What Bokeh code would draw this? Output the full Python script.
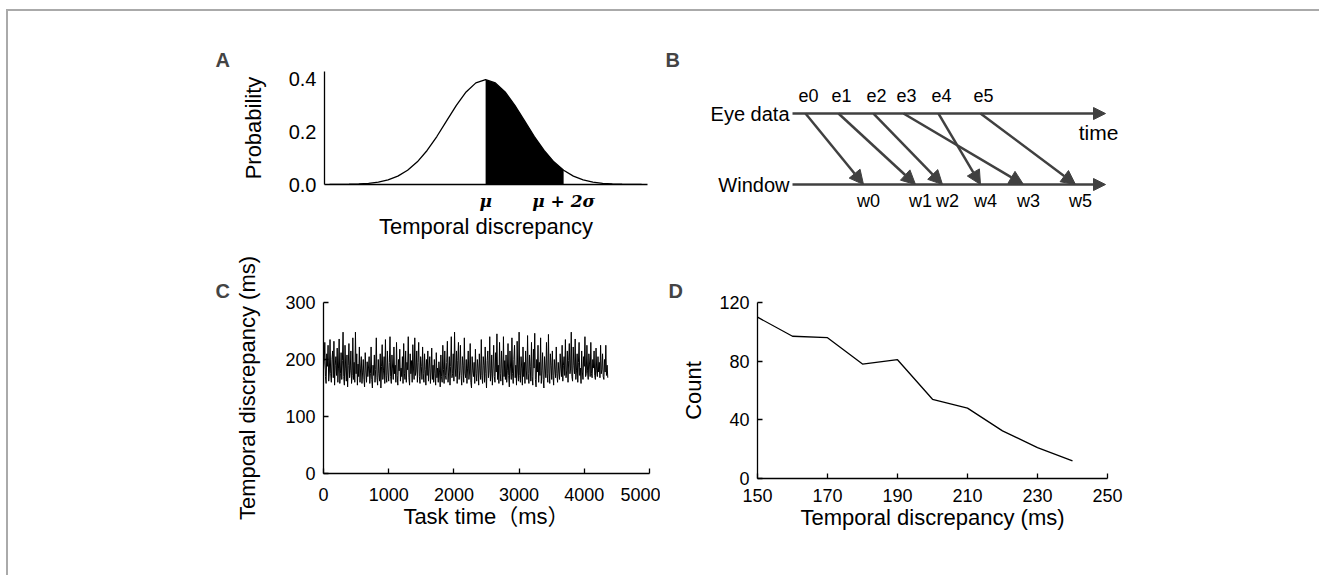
from bokeh.plotting import figure
from bokeh.models import (Range1d, FixedTicker, PrintfTickFormatter, Arrow, NormalHead,
                          ColumnDataSource, Spacer, Div)
from bokeh.layouts import row, column
from bokeh.embed import file_html
from bokeh.resources import INLINE
from bokeh.core.properties import value

FONT = "Liberation Sans"
MATH_FONT = "DejaVu Serif"
INK = "#000000"
ARROW_INK = "#404040"

# ---------------- Panel A : normal density (tabulated) ----------------
pdf_x = [-4.0, -3.75, -3.5, -3.25, -3.0, -2.75, -2.5, -2.25, -2.0, -1.75, -1.5, -1.25,
         -1.0, -0.75, -0.5, -0.25, 0.0, 0.25, 0.5, 0.75, 1.0, 1.25, 1.5, 1.75, 2.0,
         2.25, 2.5, 2.75, 3.0, 3.25, 3.5, 3.75, 4.0]
pdf_y = [0.0001, 0.0004, 0.0009, 0.0020, 0.0044, 0.0091, 0.0175, 0.0317, 0.0540, 0.0863,
         0.1295, 0.1826, 0.2420, 0.3011, 0.3521, 0.3867, 0.3989, 0.3867, 0.3521, 0.3011,
         0.2420, 0.1826, 0.1295, 0.0863, 0.0540, 0.0317, 0.0175, 0.0091, 0.0044, 0.0020,
         0.0009, 0.0004, 0.0001]
shade_lo, shade_hi = 0.0, 2.0
a_xticks = [0, 2]
a_xtick_labels = {0: "μ", 2: "μ + 2σ"}
a_yticks = [0.0, 0.2, 0.4]

# ---------------- Panel B : eye data -> window ----------------
event_labels = ["e0", "e1", "e2", "e3", "e4", "e5"]
event_t = [13, 46, 81, 111, 146, 188]
window_labels = ["w0", "w1", "w2", "w3", "w4", "w5"]
window_t = [71, 123, 150, 231, 188, 283]
time_axis_end = 313

# ---------------- Panel C : temporal discrepancy over task time ----------------
disc_values = [
    182, 196, 230, 170, 158, 210, 188, 225, 162, 178,
    235, 175, 160, 200, 215, 168, 232, 155, 190, 205,
    172, 220, 160, 185, 236, 158, 175, 212, 165, 198,
    248, 170, 155, 225, 185, 162, 208, 152, 190, 228,
    168, 180, 215, 158, 172, 238, 165, 195, 160, 248,
    175, 210, 155, 192, 170, 222, 160, 185, 205, 158,
    178, 200, 165, 152, 212, 180, 160, 196, 170, 185,
    205, 158, 175, 222, 165, 150, 190, 172, 208, 160,
    182, 238, 168, 155, 200, 175, 162, 210, 150, 188,
    226, 165, 180, 205, 158, 235, 172, 160, 215, 178,
    162, 195, 240, 170, 158, 208, 185, 165, 222, 175,
    190, 160, 230, 172, 155, 200, 180, 218, 162, 185,
    170, 205, 158, 228, 176, 165, 215, 160, 195, 182,
    240, 168, 155, 210, 175, 198, 160, 226, 185, 165,
    238, 172, 180, 215, 160, 195, 230, 170, 158, 205,
    188, 165, 222, 175, 160, 210, 182, 155, 200, 172,
    215, 162, 185, 205, 158, 178, 220, 165, 190, 160,
    200, 175, 155, 212, 168, 185, 160, 196, 178, 152,
    208, 170, 160, 225, 182, 158, 215, 172, 165, 195,
    232, 160, 178, 205, 155, 188, 240, 168, 175, 210,
    162, 248, 185, 170, 215, 158, 198, 230, 165, 180,
    225, 172, 155, 205, 190, 160, 238, 176, 168, 200,
    158, 185, 215, 165, 178, 228, 160, 150, 205, 180,
    170, 195, 158, 218, 175, 162, 200, 185, 155, 210,
    180, 165, 235, 172, 158, 205, 190, 160, 222, 175,
    150, 198, 215, 168, 180, 240, 162, 175, 208, 155,
    185, 225, 170, 160, 212, 178, 245, 165, 190, 158,
    230, 175, 162, 215, 185, 155, 240, 170, 198, 165,
    208, 160, 180, 228, 172, 152, 215, 185, 165, 238,
    175, 158, 200, 225, 168, 190, 155, 232, 178, 162,
    248, 172, 160, 205, 185, 155, 222, 170, 195, 158,
    215, 180, 165, 242, 175, 158, 208, 188, 162, 230,
    170, 155, 218, 185, 246, 165, 152, 200, 178, 225,
    160, 195, 172, 238, 158, 180, 212, 165, 150, 205,
    185, 168, 230, 175, 160, 244, 178, 158, 210, 190,
    165, 215, 172, 155, 200, 182, 168, 222, 175, 160,
    195, 178, 165, 210, 185, 170, 225, 162, 190, 205,
    172, 235, 168, 180, 215, 160, 198, 228, 175, 185,
    248, 170, 162, 222, 190, 175, 236, 165, 180, 210,
    160, 195, 230, 172, 185, 158, 215, 178, 165, 205,
    188, 240, 170, 175, 225, 180, 165, 210, 192, 170,
    230, 175, 168, 200, 185, 215, 172, 165, 220, 180,
    170, 205, 178, 195, 168, 225, 175, 182, 210, 170,
    165, 200, 178, 225, 172, 190, 168,
]
sample_step_ms = 10
task_time = [i * sample_step_ms for i in range(len(disc_values))]
c_xticks = [0, 1000, 2000, 3000, 4000, 5000]
c_yticks = [0, 100, 200, 300]

# ---------------- Panel D : histogram counts ----------------
bin_ms = [150, 160, 170, 180, 190, 200, 210, 220, 230, 240]
counts = [110, 97, 96, 78, 81, 54, 48, 32.5, 21, 12]
d_xticks = [150, 170, 190, 210, 230, 250]
d_yticks = [0, 40, 80, 120]


def style_axes(p, tick_size="18px", label_size="22px", tick_in=5):
    for ax in p.axis:
        ax.axis_line_color = INK
        ax.axis_line_width = 1.3
        ax.major_tick_line_color = INK
        ax.major_tick_line_width = 1.3
        ax.major_tick_in = tick_in
        ax.major_tick_out = 0
        ax.minor_tick_line_color = None
        ax.major_label_text_font = FONT
        ax.major_label_text_font_size = tick_size
        ax.major_label_text_color = INK
        ax.axis_label_text_font = FONT
        ax.axis_label_text_font_size = label_size
        ax.axis_label_text_font_style = "normal"
        ax.axis_label_text_color = INK
    p.grid.visible = False
    p.outline_line_color = None
    p.background_fill_color = "white"
    p.border_fill_color = "white"


def style_title(p, offset):
    p.title.text_font = FONT
    p.title.text_font_size = "20px"
    p.title.text_font_style = "bold"
    p.title.align = "left"
    p.title.offset = offset
    p.title.standoff = 2


# ---- A
pA = figure(title="A", frame_width=323, frame_height=113,
            min_border_left=124, min_border_right=13, min_border_top=31, min_border_bottom=61,
            x_range=Range1d(-4.13, 4.15), y_range=Range1d(0, 0.43),
            output_backend="svg", toolbar_location=None)
sx = [x for x in pdf_x if shade_lo <= x <= shade_hi]
sy = [y for x, y in zip(pdf_x, pdf_y) if shade_lo <= x <= shade_hi]
pA.varea(x=sx, y1=[0] * len(sx), y2=sy, fill_color=INK)
pA.line(pdf_x, pdf_y, line_color=INK, line_width=1.3)
style_axes(pA, tick_size="20px", tick_in=0)
pA.xaxis.ticker = FixedTicker(ticks=a_xticks)
pA.xaxis.major_label_overrides = a_xtick_labels
pA.xaxis.major_label_text_font = MATH_FONT
pA.xaxis.major_label_text_font_style = "bold italic"
pA.xaxis.major_label_text_font_size = "17px"
pA.xaxis.axis_label = "Temporal discrepancy"
pA.xaxis.major_label_standoff = 6
pA.xaxis.axis_label_standoff = 0
pA.yaxis.ticker = FixedTicker(ticks=a_yticks)
pA.yaxis.formatter = PrintfTickFormatter(format="%.1f")
pA.yaxis.axis_label = "Probability"
pA.yaxis.major_label_standoff = 8
pA.yaxis.axis_label_standoff = 20
style_title(pA, -109)

# ---- B
pB = figure(title="B", frame_width=470, frame_height=174,
            min_border_left=0, min_border_right=0, min_border_top=31, min_border_bottom=0,
            x_range=Range1d(-132, 338), y_range=Range1d(-0.859, 1.592),
            output_backend="svg", toolbar_location=None)
pB.axis.visible = False
pB.grid.visible = False
pB.outline_line_color = None
style_title(pB, 5)
pB.add_layout(Arrow(end=NormalHead(size=12, fill_color=ARROW_INK, line_color=ARROW_INK),
                    x_start=0, y_start=1, x_end=time_axis_end, y_end=1,
                    line_color=ARROW_INK, line_width=2.5))
pB.add_layout(Arrow(end=NormalHead(size=12, fill_color=ARROW_INK, line_color=ARROW_INK),
                    x_start=0, y_start=0, x_end=time_axis_end, y_end=0,
                    line_color=ARROW_INK, line_width=2.5))
arr_src = ColumnDataSource(dict(x0=event_t, y0=[1] * len(event_t),
                                x1=window_t, y1=[0] * len(window_t)))
pB.add_layout(Arrow(end=NormalHead(size=14, fill_color=ARROW_INK, line_color=ARROW_INK),
                    x_start="x0", y_start="y0", x_end="x1", y_end="y1", source=arr_src,
                    line_color=ARROW_INK, line_width=2.5))
pB.text(x=[e + 3 for e in event_t], y=[1.254] * len(event_t), text=event_labels,
        text_font=value(FONT), text_font_size="18px", text_align="center",
        text_baseline="middle", text_color=INK)
pB.text(x=[w + 5 for w in window_t], y=[-0.226] * len(window_t), text=window_labels,
        text_font=value(FONT), text_font_size="18px", text_align="center",
        text_baseline="middle", text_color=INK)
pB.text(x=[-3, -3], y=[1, 0], text=["Eye data", "Window"],
        text_font=value(FONT), text_font_size="20px", text_align="right",
        text_baseline="middle", text_color=INK)
pB.text(x=[306], y=[0.732], text=["time"],
        text_font=value(FONT), text_font_size="21px", text_align="center",
        text_baseline="middle", text_color=INK)

# ---- C
pC = figure(title="C", frame_width=326, frame_height=171,
            min_border_left=123, min_border_right=11, min_border_top=57, min_border_bottom=67,
            x_range=Range1d(0, 5000), y_range=Range1d(0, 300),
            output_backend="svg", toolbar_location=None)
pC.line(task_time, disc_values, line_color=INK, line_width=1.0)
style_axes(pC)
pC.xaxis.ticker = FixedTicker(ticks=c_xticks)
pC.yaxis.ticker = FixedTicker(ticks=c_yticks)
pC.xaxis.axis_label = "Task time（ms）"
pC.xaxis.axis_label_text_font = "Liberation Sans, Noto Sans CJK SC"
pC.yaxis.axis_label = "Temporal discrepancy (ms)"
pC.xaxis.major_label_standoff = 14
pC.xaxis.axis_label_standoff = 0
pC.yaxis.major_label_standoff = 8
pC.yaxis.axis_label_standoff = 22
style_title(pC, -108)

# ---- D
pD = figure(title="D", frame_width=350, frame_height=176,
            min_border_left=97, min_border_right=23, min_border_top=56, min_border_bottom=63,
            x_range=Range1d(150, 250), y_range=Range1d(0, 120),
            output_backend="svg", toolbar_location=None)
pD.line(bin_ms, counts, line_color=INK, line_width=1.3)
style_axes(pD)
pD.xaxis.ticker = FixedTicker(ticks=d_xticks)
pD.yaxis.ticker = FixedTicker(ticks=d_yticks)
pD.xaxis.axis_label = "Temporal discrepancy (ms)"
pD.yaxis.axis_label = "Count"
pD.xaxis.major_label_standoff = 10
pD.xaxis.axis_label_standoff = 0
pD.yaxis.major_label_standoff = 8
pD.yaxis.axis_label_standoff = 10
style_title(pD, -89)

content = column(Spacer(height=29),
                 row(Spacer(width=192), pA, pB),
                 row(Spacer(width=192), pC, pD))
hline = Div(width=1313, height=2, margin=0, styles={"background-color": "#aaaaaa"})
vline = Div(width=2, height=564, margin=0, styles={"background-color": "#aaaaaa"})
layout = column(Spacer(height=9),
                row(Spacer(width=6), hline),
                row(Spacer(width=6), vline, content))

html = file_html(layout, INLINE)
html = html.replace("</head>", "<style>html,body{margin:0;padding:0;}</style></head>", 1)
open("out.html", "w").write(html)
